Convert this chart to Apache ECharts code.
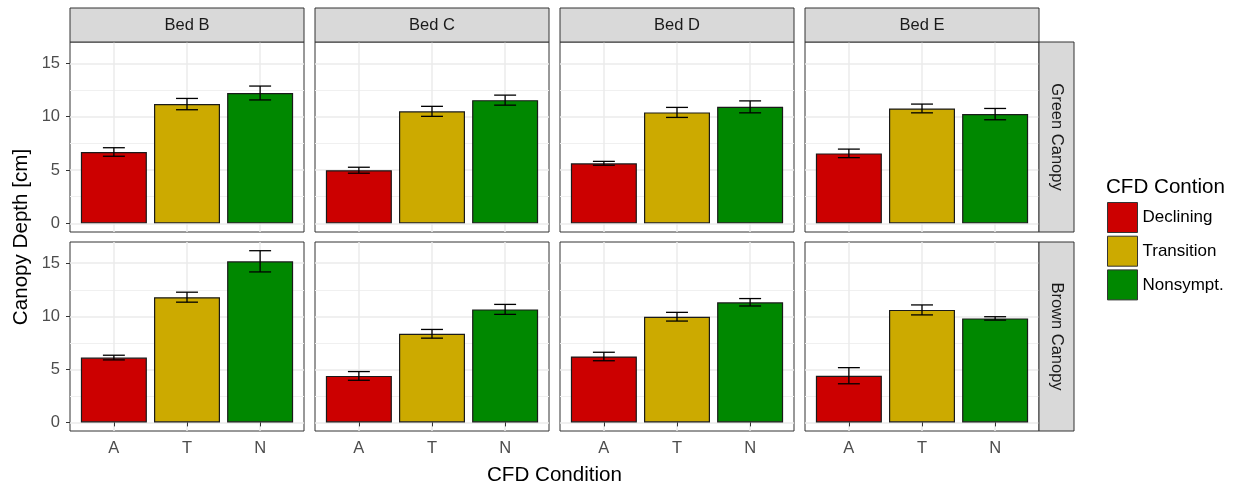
<!DOCTYPE html>
<html><head><meta charset="utf-8">
<script src="https://cdn.jsdelivr.net/npm/echarts@6/dist/echarts.min.js"></script>
<style>html,body{margin:0;padding:0;background:#fff}#c{width:1233px;height:486px}</style>
</head><body><div id="c"></div>
<script>
// ---- data ----
const beds = ['Bed B', 'Bed C', 'Bed D', 'Bed E'];
const canopies = ['Green Canopy', 'Brown Canopy'];
const conditions = ['Declining', 'Transition', 'Nonsympt.'];
const conditionTicks = ['A', 'T', 'N'];
// means per bed (rows) x condition (cols)
const greenMeans = [[6.69, 11.18, 12.22], [4.98, 10.5, 11.55], [5.63, 10.4, 10.92], [6.56, 10.77, 10.24]];
const greenSE    = [[0.40, 0.53, 0.65], [0.28, 0.47, 0.47], [0.18, 0.47, 0.56], [0.40, 0.41, 0.53]];
const brownMeans = [[6.11, 11.8, 15.18], [4.38, 8.35, 10.65], [6.21, 9.96, 11.32], [4.4, 10.6, 9.8]];
const brownSE    = [[0.22, 0.47, 1.0], [0.41, 0.41, 0.47], [0.40, 0.41, 0.35], [0.76, 0.47, 0.16]];
const yTicks = [0, 5, 10, 15];
const yMinorTicks = [2.5, 7.5, 12.5];
const xTicks = [1, 2, 3];

// ---- styling / layout ----
const colors = ['#CC0000', '#CCAA00', '#008800'];
const FONT = '"Liberation Sans", Arial, sans-serif';
const panelLeft = [70, 315, 560, 805];
const panelW = 234;
const rowTop = [42, 242];
const rowH = [190, 189];
const yMin = -0.81, yMax = 17.0;

const grids = [], xAxes = [], yAxes = [], series = [], graphics = [];
const meansByRow = [greenMeans, brownMeans];
const seByRow = [greenSE, brownSE];

for (let r = 0; r < 2; r++) {
  for (let c = 0; c < 4; c++) {
    const idx = r * 4 + c;
    grids.push({left: panelLeft[c], top: rowTop[r], width: panelW, height: rowH[r],
      show: true, borderColor: '#333', borderWidth: 1, backgroundColor: '#fff', containLabel: false});
    xAxes.push({type: 'value', gridIndex: idx, min: 0.4, max: 3.6,
      axisLine: {show: false},
      axisTick: {show: r === 1, customValues: xTicks, length: 4, lineStyle: {color: '#333', width: 1}},
      axisLabel: {show: r === 1, customValues: xTicks, formatter: v => conditionTicks[Math.round(v) - 1] || '',
        fontSize: 16.5, color: '#4D4D4D', fontFamily: FONT, margin: 9},
      splitLine: {show: true, lineStyle: {color: '#EBEBEB', width: 1.5}}
    });
    yAxes.push({type: 'value', gridIndex: idx, min: yMin, max: yMax,
      axisLine: {show: false},
      axisTick: {show: c === 0, customValues: yTicks, length: 4, lineStyle: {color: '#333', width: 1}},
      axisLabel: {show: c === 0, customValues: yTicks, fontSize: 16.5, color: '#4D4D4D', fontFamily: FONT, margin: 10},
      splitLine: {show: true, lineStyle: {color: '#EBEBEB', width: 1.5}}
    });
    yAxes.push({type: 'value', gridIndex: idx, min: yMin, max: yMax, position: 'left',
      axisLine: {show: false},
      axisTick: {show: false, customValues: yMinorTicks},
      axisLabel: {show: false, customValues: yMinorTicks},
      splitLine: {show: true, lineStyle: {color: '#F0F0F0', width: 1}}
    });
    const means = meansByRow[r][c], ses = seByRow[r][c];
    for (let k = 0; k < 3; k++) {
      series.push({type: 'bar', name: conditions[k], xAxisIndex: idx, yAxisIndex: 2 * idx,
        data: [[xTicks[k], means[k]]], barWidth: 66, barGap: '-100%',
        itemStyle: {color: colors[k], borderColor: '#1A1A1A', borderWidth: 1.2},
        emphasis: {disabled: true}, silent: true, z: 3});
    }
    series.push({type: 'custom', xAxisIndex: idx, yAxisIndex: 2 * idx, z: 5, silent: true,
      data: xTicks.map((x, k) => [x, means[k], ses[k]]),
      encode: {x: 0, y: 1},
      renderItem: (params, api) => {
        const x = api.value(0), m = api.value(1), s = api.value(2);
        const top = api.coord([x, m + s]), bot = api.coord([x, m - s]);
        const hw = api.size([0.15, 0])[0];
        const st = {stroke: '#000', lineWidth: 1.3};
        return {type: 'group', children: [
          {type: 'line', shape: {x1: top[0], y1: top[1], x2: bot[0], y2: bot[1]}, style: st},
          {type: 'line', shape: {x1: top[0] - hw, y1: top[1], x2: top[0] + hw, y2: top[1]}, style: st},
          {type: 'line', shape: {x1: bot[0] - hw, y1: bot[1], x2: bot[0] + hw, y2: bot[1]}, style: st}
        ]};
      }
    });
  }
}

// strips (top)
beds.forEach((b, c) => {
  graphics.push({type: 'rect', shape: {x: panelLeft[c], y: 8, width: panelW, height: 34},
    style: {fill: '#D9D9D9', stroke: '#333', lineWidth: 1}, z: 10});
  graphics.push({type: 'text', x: panelLeft[c] + panelW / 2, y: 25, z: 11,
    style: {text: b, fill: '#1A1A1A', font: '16.5px ' + FONT, align: 'center', verticalAlign: 'middle',
      textAlign: 'center', textVerticalAlign: 'middle'}});
});
// strips (right)
canopies.forEach((name, r) => {
  const sx = panelLeft[3] + panelW;
  graphics.push({type: 'rect', shape: {x: sx, y: rowTop[r], width: 35, height: rowH[r]},
    style: {fill: '#D9D9D9', stroke: '#333', lineWidth: 1}, z: 10});
  graphics.push({type: 'text', x: sx + 17.5, y: rowTop[r] + rowH[r] / 2, rotation: -Math.PI / 2, z: 11,
    style: {text: name, fill: '#1A1A1A', font: '16.5px ' + FONT, align: 'center', verticalAlign: 'middle',
      textAlign: 'center', textVerticalAlign: 'middle'}});
});
// axis titles
graphics.push({type: 'text', x: 21, y: 237, rotation: Math.PI / 2, z: 11,
  style: {text: 'Canopy Depth [cm]', fill: '#000', font: '20.6px ' + FONT, align: 'center', verticalAlign: 'middle',
    textAlign: 'center', textVerticalAlign: 'middle'}});
graphics.push({type: 'text', x: (panelLeft[0] + panelLeft[3] + panelW) / 2, y: 475, z: 11,
  style: {text: 'CFD Condition', fill: '#000', font: '20.6px ' + FONT, align: 'center', verticalAlign: 'middle',
    textAlign: 'center', textVerticalAlign: 'middle'}});
// legend title
graphics.push({type: 'text', x: 1106, y: 187, z: 11,
  style: {text: 'CFD Contion', fill: '#000', font: '20.6px ' + FONT, align: 'left', verticalAlign: 'middle',
    textAlign: 'left', textVerticalAlign: 'middle'}});

const chart = echarts.init(document.getElementById('c'), null, {renderer: 'canvas'});
chart.setOption({
  animation: false,
  backgroundColor: '#fff',
  grid: grids, xAxis: xAxes, yAxis: yAxes, series: series,
  legend: {data: conditions, orient: 'vertical', left: 1107, top: 202, icon: 'rect',
    itemWidth: 30, itemHeight: 30, itemGap: 2.7, selectedMode: false,
    itemStyle: {borderColor: '#333', borderWidth: 1},
    textStyle: {fontSize: 17, color: '#000', fontFamily: FONT}, padding: 0},
  graphic: {elements: graphics}
});
</script></body></html>
